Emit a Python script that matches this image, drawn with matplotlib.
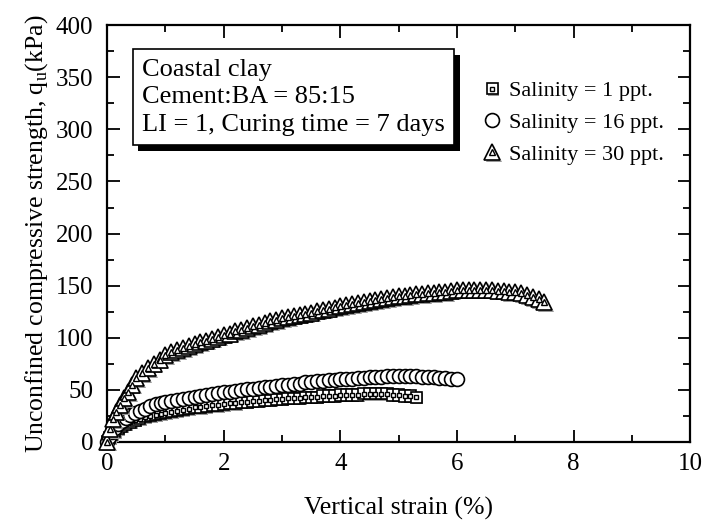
import matplotlib
matplotlib.use("Agg")
import matplotlib.pyplot as plt
import matplotlib.patheffects as pe
from matplotlib.ticker import MultipleLocator

plt.rcParams['font.family'] = ['Liberation Serif', 'DejaVu Serif']
plt.rcParams['mathtext.fontset'] = 'custom'
plt.rcParams['mathtext.rm'] = 'Liberation Serif'

# salinity = 1 ppt.
strain_1 = [0.00, 0.04, 0.08, 0.13, 0.19, 0.25, 0.32, 0.40, 0.48, 0.56, 0.65, 0.74,
            0.83, 0.92, 1.00, 1.10, 1.20, 1.30, 1.40, 1.50, 1.60, 1.70, 1.80, 1.90,
            2.00, 2.10, 2.20, 2.30, 2.40, 2.50, 2.60, 2.70, 2.80, 2.90, 3.00, 3.10,
            3.20, 3.30, 3.40, 3.50, 3.60, 3.70, 3.80, 3.90, 4.00, 4.10, 4.20, 4.30,
            4.40, 4.50, 4.60, 4.70, 4.80, 4.90, 5.00, 5.10, 5.20, 5.30]
qu_1 = [0, 4, 7, 10, 13, 15, 17, 19, 21, 22, 24, 25,
        26, 27, 28, 29, 30, 31, 32, 33, 33, 34, 35, 35,
        36, 37, 37, 38, 38, 39, 39, 40, 40, 41, 41, 42,
        42, 42, 43, 43, 43, 44, 44, 44, 45, 45, 45, 45,
        46, 46, 46, 46, 46, 45, 45, 44, 44, 43]

# salinity = 16 ppt.
strain_16 = [0.00, 0.04, 0.08, 0.13, 0.19, 0.25, 0.32, 0.40, 0.48, 0.56, 0.65, 0.74,
             0.83, 0.92, 1.00, 1.10, 1.20, 1.30, 1.40, 1.50, 1.60, 1.70, 1.80, 1.90,
             2.00, 2.10, 2.20, 2.30, 2.40, 2.50, 2.60, 2.70, 2.80, 2.90, 3.00, 3.10,
             3.20, 3.30, 3.40, 3.50, 3.60, 3.70, 3.80, 3.90, 4.00, 4.10, 4.20, 4.30,
             4.40, 4.50, 4.60, 4.70, 4.80, 4.90, 5.00, 5.10, 5.20, 5.30, 5.40, 5.50,
             5.60, 5.70, 5.80, 5.90, 6.00]
qu_16 = [0, 5, 9, 13, 17, 20, 23, 26, 28, 30, 32, 34,
         36, 37, 38, 39, 40, 41, 42, 43, 44, 45, 46, 47,
         48, 48, 49, 50, 51, 51, 52, 53, 53, 54, 55, 55,
         56, 56, 57, 57, 58, 58, 59, 59, 60, 60, 60, 61,
         61, 62, 62, 62, 63, 63, 63, 63, 63, 63, 62, 62,
         62, 61, 61, 60, 60]

# salinity = 30 ppt.
strain_30 = [0.00, 0.05, 0.10, 0.16, 0.22, 0.29, 0.36, 0.43, 0.50, 0.60, 0.70, 0.80,
             0.90, 1.00, 1.10, 1.20, 1.30, 1.40, 1.50, 1.60, 1.70, 1.80, 1.90, 2.00,
             2.10, 2.20, 2.30, 2.40, 2.50, 2.60, 2.70, 2.80, 2.90, 3.00, 3.10, 3.20,
             3.30, 3.40, 3.50, 3.60, 3.70, 3.80, 3.90, 4.00, 4.10, 4.20, 4.30, 4.40,
             4.50, 4.60, 4.70, 4.80, 4.90, 5.00, 5.10, 5.20, 5.30, 5.40, 5.50, 5.60,
             5.70, 5.80, 5.90, 6.00, 6.10, 6.20, 6.30, 6.40, 6.50, 6.60, 6.70, 6.80,
             6.90, 7.00, 7.10, 7.20, 7.30, 7.40, 7.50]
qu_30 = [0, 12, 22, 29, 35, 42, 48, 55, 61, 66, 71, 75,
         79, 83, 86, 88, 90, 92, 94, 96, 97, 99, 101, 103,
         104, 106, 107, 109, 111, 112, 114, 116, 117, 119, 120, 121,
         122, 123, 124, 126, 127, 128, 129, 130, 131, 132, 133, 134,
         135, 136, 137, 138, 139, 140, 140, 141, 142, 142, 143, 143,
         144, 144, 145, 146, 146, 146, 146, 146, 146, 146, 145, 145,
         144, 144, 143, 141, 139, 137, 134]

labels = ['Salinity = 1 ppt.', 'Salinity = 16 ppt.', 'Salinity = 30 ppt.']

fig = plt.figure(figsize=(7.05, 5.26), dpi=100)
ax = fig.add_axes([0.152, 0.160, 0.827, 0.792])

shadow = [pe.SimplePatchShadow(offset=(1.2, -1.2), shadow_rgbFace='0.6', alpha=1.0), pe.Normal()]

sq_out, = ax.plot(strain_1, qu_1, ls='none', marker='s', ms=8, mfc='white', mec='black',
                  mew=1.2, clip_on=False, zorder=3, path_effects=shadow)
sq_in, = ax.plot(strain_1, qu_1, ls='none', marker='s', ms=3.5, mfc='white', mec='black',
                 mew=1.0, clip_on=False, zorder=3)
circ, = ax.plot(strain_16, qu_16, ls='none', marker='o', ms=10, mfc='white', mec='black',
                mew=1.2, clip_on=False, zorder=4)
tri_out, = ax.plot(strain_30, qu_30, ls='none', marker='^', ms=11.5, mfc='white', mec='black',
                   mew=1.2, clip_on=False, zorder=5, path_effects=shadow)
tri_in, = ax.plot(strain_30, qu_30, ls='none', marker='^', ms=5, mfc='white', mec='black',
                  mew=1.0, clip_on=False, zorder=5)

ax.set_xlim(0, 10)
ax.set_ylim(0, 400)
ax.xaxis.set_major_locator(MultipleLocator(2))
ax.xaxis.set_minor_locator(MultipleLocator(1))
ax.yaxis.set_major_locator(MultipleLocator(50))
ax.yaxis.set_minor_locator(MultipleLocator(25))
ax.tick_params(which='both', direction='in', top=True, right=True, width=1.3,
               labelsize=18, colors='black')
ax.tick_params(axis='x', which='both', pad=8)
ax.tick_params(axis='y', which='both', pad=10)
ax.tick_params(which='major', length=9)
ax.tick_params(which='minor', length=5)
for s in ax.spines.values():
    s.set_linewidth(1.6)

ax.set_xlabel('Vertical strain (%)', fontsize=18.5, labelpad=16)
ax.set_ylabel(r'Unconfined compressive strength, q$_\mathregular{u}$(kPa)', fontsize=18.5, labelpad=4)

txt = ax.text(0.06, 0.92, 'Coastal clay\nCement:BA = 85:15\nLI = 1, Curing time = 7 days',
              transform=ax.transAxes, ha='left', va='top', fontsize=19, linespacing=1.33,
              bbox=dict(boxstyle='square,pad=0.35', fc='white', ec='black', lw=1.2))
txt.get_bbox_patch().set_path_effects(
    [pe.SimplePatchShadow(offset=(4, -4), shadow_rgbFace='black', alpha=1.0), pe.Normal()])

ax.legend([(sq_out, sq_in), circ, (tri_out, tri_in)], labels, loc='upper left',
          bbox_to_anchor=(0.63, 0.888), frameon=False, fontsize=16, numpoints=1,
          handlelength=0.8, handletextpad=0.35, labelspacing=0.5, borderaxespad=0)

fig.savefig('out.png', dpi=100)
